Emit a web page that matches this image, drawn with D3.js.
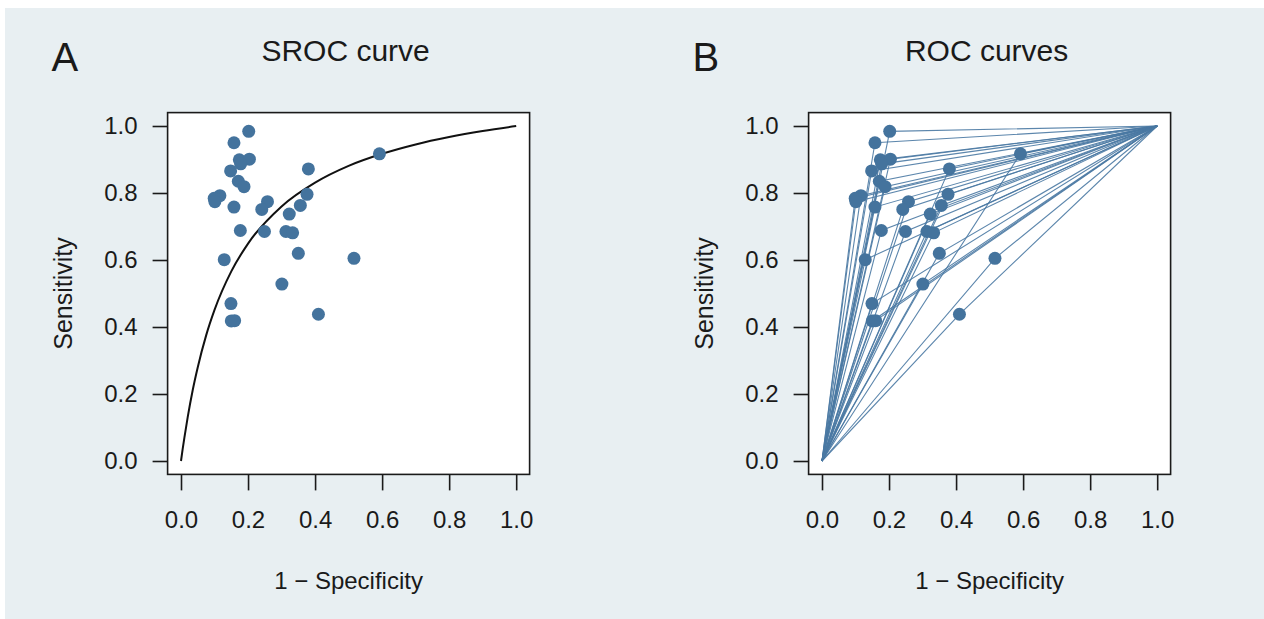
<!DOCTYPE html>
<html>
<head>
<meta charset="utf-8">
<script src="https://cdn.jsdelivr.net/npm/d3@7"></script>
<style>
  body { margin: 0; background: #ffffff; }
  svg { display: block; }
  text { font-family: "Liberation Sans", Arial, sans-serif; fill: #1a1a1a; }
</style>
</head>
<body>
<script>
// study points: 1 - specificity and sensitivity
var fpr = [0.202, 0.158, 0.174, 0.204, 0.178, 0.148, 0.171, 0.188, 0.380, 0.592,
           0.116, 0.099, 0.101, 0.158, 0.258, 0.241, 0.376, 0.356, 0.323, 0.177,
           0.249, 0.313, 0.333, 0.129, 0.350, 0.516, 0.301, 0.149, 0.150, 0.160, 0.410];
var tpr = [0.984, 0.950, 0.899, 0.901, 0.887, 0.866, 0.835, 0.819, 0.872, 0.917,
           0.792, 0.784, 0.774, 0.758, 0.774, 0.751, 0.796, 0.763, 0.737, 0.688,
           0.685, 0.685, 0.681, 0.601, 0.620, 0.605, 0.528, 0.470, 0.418, 0.419, 0.438];

// summary ROC curve
var srocX = [0, 0.005, 0.01, 0.02, 0.035, 0.05, 0.075, 0.1, 0.15, 0.2, 0.3, 0.4, 0.5, 0.6, 0.7, 0.8, 0.9, 1.0];
var srocY = [0, 0.036, 0.069, 0.131, 0.212, 0.280, 0.375, 0.451, 0.566, 0.649, 0.760, 0.831, 0.881, 0.917, 0.945, 0.967, 0.985, 1.0];

var tickVals = [0, 0.2, 0.4, 0.6, 0.8, 1.0];
var panelLetters = ['A', 'B'];
var panelTitles = ['SROC curve', 'ROC curves'];
var xLabel = '1 \u2212 Specificity';
var yLabel = 'Sensitivity';

var W = 1264, H = 619;
var pointColor = '#44739d';
var lineColor = '#4a79a3';

var svg = d3.select('body').append('svg').attr('width', W).attr('height', H);

svg.append('rect').attr('x', 5).attr('y', 8).attr('width', W - 5).attr('height', H - 8)
   .attr('fill', '#e8eff2');

var studies = fpr.map(function (d, i) { return { x: d, y: tpr[i] }; });
var sroc = srocX.map(function (d, i) { return { x: d, y: srocY[i] }; });

// left edge of each plot box
var panelLeft = [167.6, 808.6];

panelLeft.forEach(function (left, p) {
  var size = 362;
  var x = d3.scaleLinear().domain([-0.04, 1.04]).range([left, left + size]);
  var y = d3.scaleLinear().domain([-0.04, 1.04]).range([474.4, 112.6]);
  var g = svg.append('g');

  g.append('rect')
   .attr('x', x(-0.04)).attr('y', y(1.04))
   .attr('width', x(1.04) - x(-0.04)).attr('height', y(-0.04) - y(1.04))
   .attr('fill', '#ffffff').attr('stroke', '#1a1a1a').attr('stroke-width', 1.6);

  var xAxis = g.append('g').attr('transform', 'translate(0,' + y(-0.04) + ')')
    .call(d3.axisBottom(x).tickValues(tickVals).tickFormat(d3.format('.1f'))
      .tickSize(16).tickPadding(21));
  var yAxis = g.append('g').attr('transform', 'translate(' + x(-0.04) + ',0)')
    .call(d3.axisLeft(y).tickValues(tickVals).tickFormat(d3.format('.1f'))
      .tickSize(15).tickPadding(15));
  [xAxis, yAxis].forEach(function (a) {
    a.select('.domain').remove();
    a.selectAll('line').attr('stroke', '#1a1a1a').attr('stroke-width', 1.6);
    a.selectAll('text').attr('font-size', 24).attr('fill', '#1a1a1a')
     .style('font-family', '"Liberation Sans", Arial, sans-serif');
  });

  if (p === 0) {
    var line = d3.line().x(function (d) { return x(d.x); }).y(function (d) { return y(d.y); })
      .curve(d3.curveMonotoneX);
    g.append('path').datum(sroc).attr('d', line)
     .attr('fill', 'none').attr('stroke', '#111111').attr('stroke-width', 2);
  } else {
    g.selectAll('polyline.roc').data(studies).enter().append('polyline')
     .attr('class', 'roc')
     .attr('points', function (d) {
       return [x(0), y(0), x(d.x), y(d.y), x(1), y(1)].join(',');
     })
     .attr('fill', 'none').attr('stroke', lineColor).attr('stroke-width', 1.1)
     .attr('stroke-opacity', 0.9);
  }

  g.selectAll('circle.pt').data(studies).enter().append('circle')
   .attr('class', 'pt')
   .attr('cx', function (d) { return x(d.x); })
   .attr('cy', function (d) { return y(d.y); })
   .attr('r', 6.5).attr('fill', pointColor);

  var cx = (x(-0.04) + x(1.04)) / 2;
  g.append('text').attr('x', cx - 3).attr('y', 61).attr('text-anchor', 'middle')
   .attr('font-size', 30).text(panelTitles[p]);
  g.append('text').attr('x', left - 116).attr('y', 71)
   .attr('font-size', 40).text(panelLetters[p]);
  g.append('text').attr('x', cx).attr('y', 589).attr('text-anchor', 'middle')
   .attr('font-size', 24).text(xLabel);
  g.append('text').attr('transform', 'translate(' + (left - 96) + ',' + y(0.5) + ') rotate(-90)')
   .attr('text-anchor', 'middle').attr('font-size', 25).text(yLabel);
});
</script>
</body>
</html>
